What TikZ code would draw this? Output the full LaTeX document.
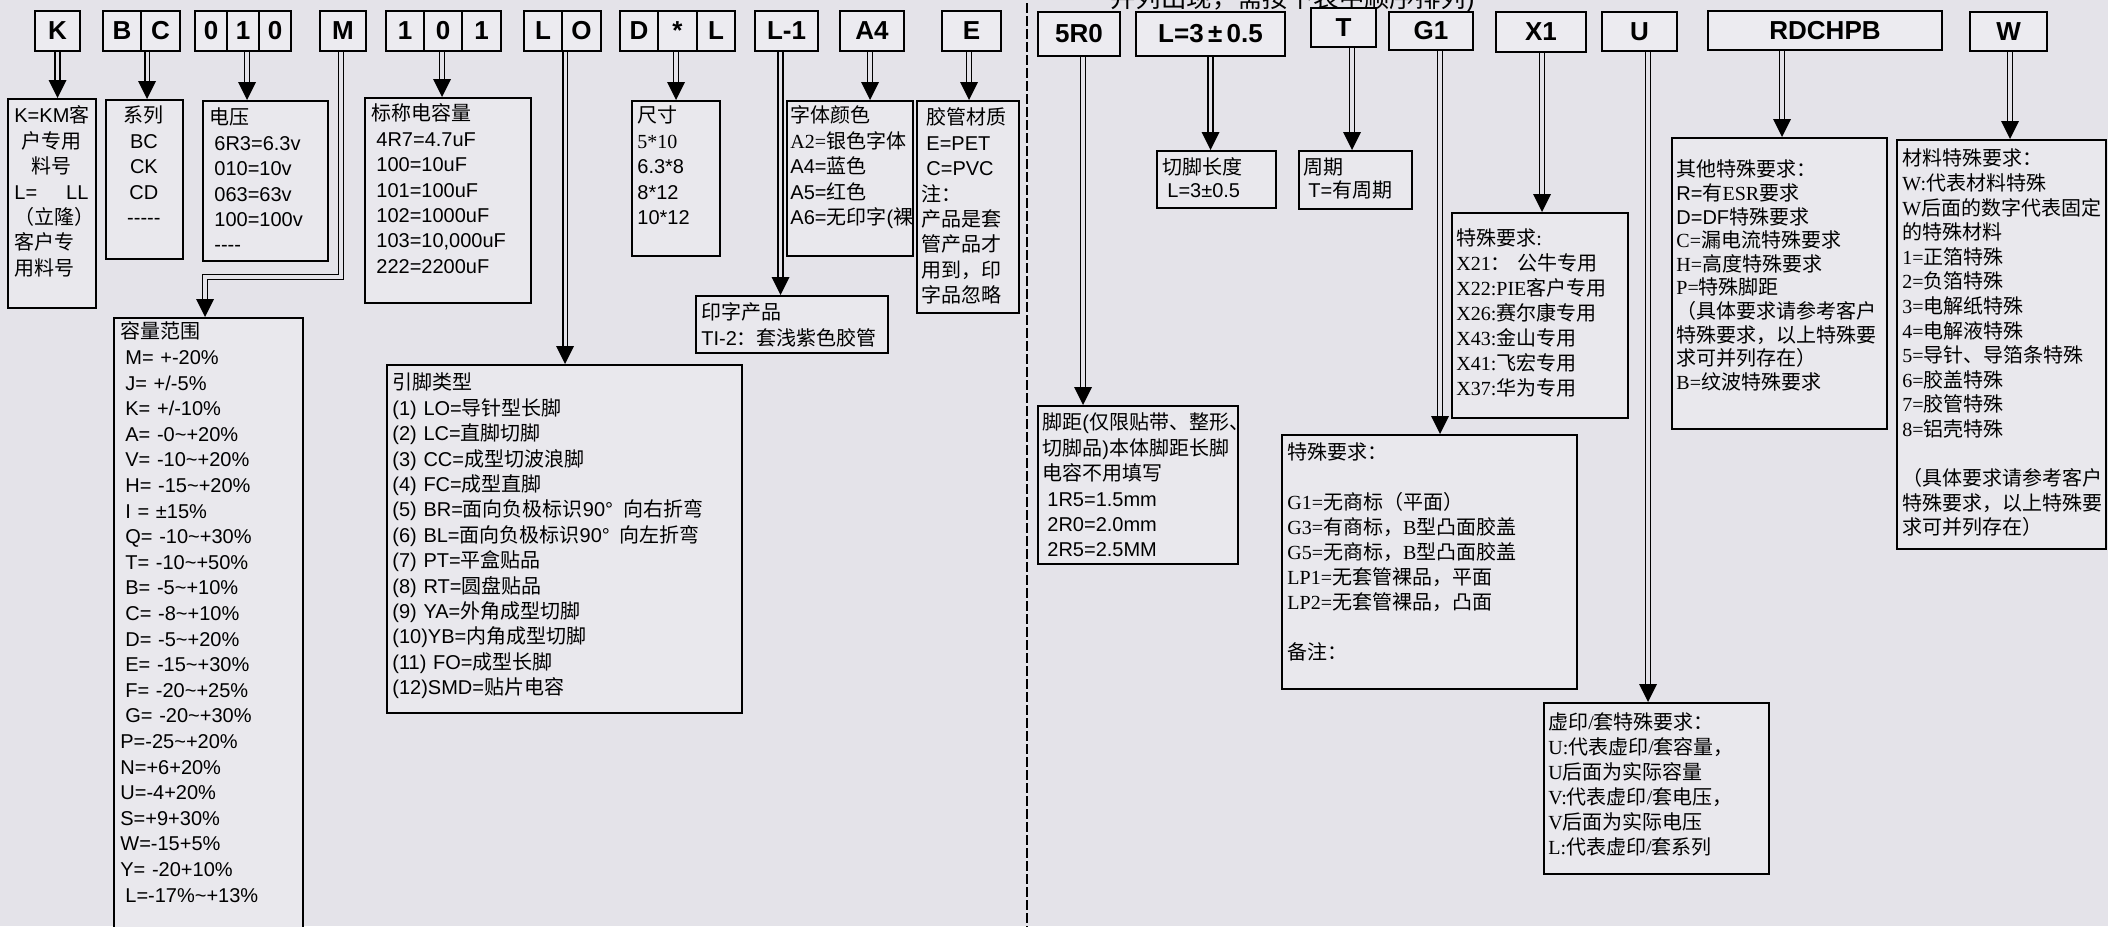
\documentclass[tikz,border=0pt]{standalone}
\usepackage{fontspec}
\setmainfont{Liberation Sans}
\newfontfamily\cjk{Noto Sans CJK SC}
\newfontfamily\serifL{Liberation Serif}
\newfontfamily\sansL{Liberation Sans}
\usetikzlibrary{arrows.meta}
\definecolor{bgc}{RGB}{228,227,233}
\definecolor{boxc}{RGB}{233,232,237}
\definecolor{hdrc}{RGB}{236,235,240}
\newcommand\tld{\textasciitilde}
\newcommand\ind{\hspace*{2.5pt}}
\newcommand\hdrf{\bfseries\fontsize{13}{13}\selectfont}
\newcount\cjkcnt
\chardef\cjkclass=10
\def\setcjkrange#1#2{\cjkcnt=#1\relax
  \loop\XeTeXcharclass\cjkcnt=\cjkclass\relax
  \advance\cjkcnt by 1\relax
  \ifnum\cjkcnt<#2\relax\repeat}
\setcjkrange{"3000}{"3040}
\setcjkrange{"4E00}{"A000}
\setcjkrange{"FF00}{"FFF0}
\XeTeXinterchartoks 0 \cjkclass = {\begingroup\cjk}
\XeTeXinterchartoks 4095 \cjkclass = {\begingroup\cjk}
\XeTeXinterchartoks \cjkclass 0 = {\endgroup}
\XeTeXinterchartoks \cjkclass 4095 = {\endgroup}
\XeTeXinterchartokenstate=1
\newcommand\darrow[2]{%
  \draw[dshaft] (#1) -- (#1 |- #2.north);
  \fill[black] (#1 |- #2.north) -- ++(-4.5pt,9pt) -- ++(9pt,0pt) -- cycle;}
\begin{document}
\begin{tikzpicture}[x=0.5pt,y=-0.5pt,
  bx/.style={draw=black, line width=1.1pt, fill=boxc, inner sep=0pt, anchor=north west},
  hc/.style={draw=black, line width=1.1pt, fill=hdrc, inner sep=0pt, font=\hdrf},
  tx/.style={anchor=north west, inner sep=0pt, align=left, font={\fontsize{10}{12.7}\selectfont},
     execute at begin node={\rule{0pt}{9.2pt}}},
  sertx/.style={tx, font={\fontsize{10}{12.5}\selectfont\serifL}},
  dshaft/.style={draw=black, line width=0.75pt, double=bgc, double distance=1.6pt, shorten >=8pt},
  divl/.style={draw=black, line width=1.4pt, dash pattern=on 5pt off 1.5pt}]
\useasboundingbox (0,0) rectangle (2108,926);
\clip (0,0) rectangle (2108,926);
\fill[bgc] (0,0) rectangle (2108,926);

% ---------- header row, left ----------
\node[hc, minimum width=22.5pt, minimum height=20pt] (hK) at (57.5,31) {K};
\node[hc, minimum width=19pt, minimum height=20pt] (hB) at (122,31) {B};
\node[hc, minimum width=19.5pt, minimum height=20pt] (hC) at (160.5,31) {C};
\node[hc, minimum width=16pt, minimum height=20pt] (h00) at (211,31) {0};
\node[hc, minimum width=16pt, minimum height=20pt] (h01) at (243,31) {1};
\node[hc, minimum width=16pt, minimum height=20pt] (h02) at (275,31) {0};
\node[hc, minimum width=23pt, minimum height=20pt] (hM) at (343,31) {M};
\node[hc, minimum width=19pt, minimum height=20pt] (h11) at (405,31) {1};
\node[hc, minimum width=19pt, minimum height=20pt] (h10) at (443,31) {0};
\node[hc, minimum width=19.5pt, minimum height=20pt] (h12) at (481.5,31) {1};
\node[hc, minimum width=19pt, minimum height=20pt] (hLa) at (543,31) {L};
\node[hc, minimum width=19.5pt, minimum height=20pt] (hLb) at (581.5,31) {O};
\node[hc, minimum width=19pt, minimum height=20pt] (hDa) at (639,31) {D};
\node[hc, minimum width=19.5pt, minimum height=20pt] (hDb) at (677.5,31) {*};
\node[hc, minimum width=19pt, minimum height=20pt] (hDc) at (716,31) {L};
\node[hc, minimum width=31.5pt, minimum height=20pt] (hL1) at (786.5,31) {L-1};
\node[hc, minimum width=32pt, minimum height=20pt] (hA4) at (872,31) {A4};
\node[hc, minimum width=29.5pt, minimum height=20pt] (hE) at (971.5,31) {E};

% ---------- header row, right ----------
\node[hc, minimum width=41pt, minimum height=22pt] (h5) at (1079,34) {5R0};
\node[hc, minimum width=74.5pt, minimum height=22pt] (hLq) at (1210.5,34) {L=3\,±\,0.5};
\node[hc, minimum width=32.5pt, minimum height=19.5pt] (hT) at (1343.5,27.5) {T};
\node[hc, minimum width=42pt, minimum height=19pt] (hG) at (1431,31) {G1};
\node[hc, minimum width=45pt, minimum height=20pt] (hX) at (1541,32) {X1};
\node[hc, minimum width=37.5pt, minimum height=19.5pt] (hU) at (1639.5,31.5) {U};
\node[hc, minimum width=117pt, minimum height=19.5pt] (hR) at (1825,30.5) {RDCHPB};
\node[hc, minimum width=38.5pt, minimum height=19.5pt] (hW) at (2008.5,31.5) {W};

\node[anchor=base west, inner sep=0pt, font={\fontsize{12.7}{13}\selectfont}] (topnote) at (1110,8) {并列出现，需按下表中顺序排列)};

% divider
\draw[divl] (1027,-10) -- (1027,940);

% ---------- left boxes ----------
\node[bx, minimum width=44pt, minimum height=104.5pt] (kb) at (7,98) {};
\node[tx, align=center, text width=37pt] (kt) at (14,104) {K=KM客\\户专用\\料号\\L=\hfill LL\\（立隆）\\客户专\hfill\null\\用料号\hfill\null};

\node[bx, minimum width=38.5pt, minimum height=79.5pt] (sb) at (105,99) {};
\node[tx, align=center, text width=34.5pt] (st) at (109,104) {系列\\BC\\CK\\CD\\-{}-{}-{}-{}-};

\node[bx, minimum width=62.5pt, minimum height=80pt] (vb) at (202,100) {};
\node[tx, text width=60pt] (vt) at (209,106) {电压\\\ind 6R3=6.3v\\\ind 010=10v\\\ind 063=63v\\\ind 100=100v\\\ind -{}-{}-{}-};

\node[bx, minimum width=83pt, minimum height=102.5pt] (cb) at (364,97) {};
\node[tx, text width=82pt] (ct) at (371,102) {标称电容量\\\ind 4R7=4.7uF\\\ind 100=10uF\\\ind 101=100uF\\\ind 102=1000uF\\\ind 103=10,000uF\\\ind 222=2200uF};

\node[bx, minimum width=94.5pt, minimum height=320pt] (rb) at (113,317) {};
\node[tx, text width=100pt, font={\fontsize{10}{12.8}\selectfont}] (rt) at (120,320) {容量范围\\\ind M= +-20\%\\\ind J= +/-5\%\\\ind K= +/-10\%\\\ind A= -0\tld+20\%\\\ind V= -10\tld+20\%\\\ind H= -15\tld+20\%\\\ind I = ±15\%\\\ind Q= -10\tld+30\%\\\ind T= -10\tld+50\%\\\ind B= -5\tld+10\%\\\ind C= -8\tld+10\%\\\ind D= -5\tld+20\%\\\ind E= -15\tld+30\%\\\ind F= -20\tld+25\%\\\ind G= -20\tld+30\%\\P=-25\tld+20\%\\N=+6+20\%\\U=-4+20\%\\S=+9+30\%\\W=-15+5\%\\Y= -20+10\%\\\ind L=-17\%\tld+13\%};

\node[bx, minimum width=177.5pt, minimum height=174pt] (pb) at (386,364) {};
\node[tx, text width=200pt] (ptx) at (392,371) {引脚类型\\(1) LO=导针型长脚\\(2) LC=直脚切脚\\(3) CC=成型切波浪脚\\(4) FC=成型直脚\\(5) BR=面向负极标识90°\hspace{5pt}向右折弯\\(6) BL=面向负极标识90°\hspace{5pt}向左折弯\\(7) PT=平盒贴品\\(8) RT=圆盘贴品\\(9) YA=外角成型切脚\\(10)YB=内角成型切脚\\(11) FO=成型长脚\\(12)SMD=贴片电容};

\node[bx, minimum width=44pt, minimum height=77.5pt] (zb) at (631,100) {};
\node[tx, text width=50pt] (zt) at (637,104) {尺寸\\{\serifL 5*10}\\6.3*8\\8*12\\10*12};

\node[bx, minimum width=63pt, minimum height=77.5pt] (fb) at (786,100) {};
\node[tx, text width=80pt] (ft) at (790,104) {字体颜色\\{\serifL A2=}银色字体\\A4=蓝色\\A5=红色\\A6=无印字(裸};

\node[bx, minimum width=51pt, minimum height=106pt] (eb) at (916,100) {};
\node[tx, text width=60pt] (et) at (921,106) {\ind 胶管材质\\\ind E=PET\\\ind C=PVC\\注：\\产品是套\\管产品才\\用到，印\\字品忽略};

\node[bx, minimum width=96pt, minimum height=28.5pt] (yb) at (695,295) {};
\node[tx, text width=100pt] (yt) at (701,301) {印字产品\\TI-2：套浅紫色胶管};

% ---------- right boxes ----------
\node[bx, minimum width=100pt, minimum height=79pt] (jb) at (1037,405) {};
\node[tx, text width=120pt] (jt) at (1042,411) {脚距(仅限贴带、整形、\\切脚品)本体脚距长脚\\电容不用填写\\\ind 1R5=1.5mm\\\ind 2R0=2.0mm\\\ind 2R5=2.5MM};

\node[bx, minimum width=59.5pt, minimum height=28.5pt] (qb) at (1156,150) {};
\node[tx, text width=60pt, font={\fontsize{10}{11.5}\selectfont}] (qt) at (1162,156) {切脚长度\\\ind L=3±0.5};

\node[bx, minimum width=56.5pt, minimum height=29pt] (tb) at (1298,150) {};
\node[tx, text width=60pt, font={\fontsize{10}{11.5}\selectfont}] (tt) at (1303,156) {周期\\\ind T=有周期};

\node[bx, minimum width=147.5pt, minimum height=127pt] (gb) at (1281,434) {};
\node[sertx, text width=150pt] (gt) at (1287,441) {特殊要求：\\\mbox{}\\G1=无商标（平面）\\G3=有商标，B型凸面胶盖\\G5=无商标，B型凸面胶盖\\LP1=无套管裸品，平面\\LP2=无套管裸品，凸面\\\mbox{}\\备注：};

\node[bx, minimum width=88pt, minimum height=102.5pt] (xb) at (1451,212) {};
\node[sertx, text width=100pt] (xt) at (1456,227) {特殊要求:\\X21： 公牛专用\\X22:PIE客户专用\\X26:赛尔康专用\\X43:金山专用\\X41:飞宏专用\\X37:华为专用};

\node[bx, minimum width=112.5pt, minimum height=85.5pt] (ub) at (1543,702) {};
\node[sertx, text width=120pt] (ut) at (1548,711) {虚印/套特殊要求：\\U:代表虚印/套容量，\\U后面为实际容量\\V:代表虚印/套电压，\\V后面为实际电压\\L:代表虚印/套系列};

\node[bx, minimum width=107.5pt, minimum height=145.5pt] (ob) at (1671,137) {};
\node[sertx, text width=120pt, font={\fontsize{10}{11.8}\selectfont\serifL}] (ot) at (1676,158) {其他特殊要求：\\{\sansL R=}有ESR要求\\{\sansL D=DF}特殊要求\\C=漏电流特殊要求\\H=高度特殊要求\\P=特殊脚距\\（具体要求请参考客户\\特殊要求，以上特殊要\\求可并列存在）\\B=纹波特殊要求};

\node[bx, minimum width=104.5pt, minimum height=204.5pt] (mb) at (1896,139) {};
\node[sertx, text width=120pt, font={\fontsize{10}{12.3}\selectfont\serifL}] (mt) at (1902,147) {材料特殊要求：\\W:代表材料特殊\\W后面的数字代表固定\\的特殊材料\\1=正箔特殊\\2=负箔特殊\\3=电解纸特殊\\4=电解液特殊\\5=导针、导箔条特殊\\6=胶盖特殊\\7=胶管特殊\\8=铝壳特殊\\\mbox{}\\（具体要求请参考客户\\特殊要求，以上特殊要\\求可并列存在）};

% ---------- arrow start points ----------
\coordinate (aK) at (hK.south);
\coordinate (aBC) at ([xshift=2.5pt]hB.south east);
\coordinate (a010) at ([xshift=2pt]h01.south);
\coordinate (aM) at ([xshift=-1pt]hM.south);
\coordinate (a101) at ([xshift=-0.5pt]h10.south);
\coordinate (aLO) at ([xshift=1pt]hLa.south east);
\coordinate (aDL) at ([xshift=-0.75pt]hDb.south);
\coordinate (aL1) at ([xshift=-3pt]hL1.south);
\coordinate (aA4) at ([xshift=-1pt]hA4.south);
\coordinate (aE) at ([xshift=-1.25pt]hE.south);
\coordinate (a5) at ([xshift=2pt]h5.south);
\coordinate (aL) at (hLq.south);
\coordinate (aT) at ([xshift=4.25pt]hT.south);
\coordinate (aG) at ([xshift=4.5pt]hG.south);
\coordinate (aX) at ([xshift=0.5pt]hX.south);
\coordinate (aU) at ([xshift=4.25pt]hU.south);
\coordinate (aR) at ([xshift=-21.5pt]hR.south);
\coordinate (aW) at ([xshift=0.75pt]hW.south);
\coordinate (m1) at (341,277);
\coordinate (m2) at (205,277);

% ---------- connectors ----------
\darrow{aK}{kb}
\darrow{aBC}{sb}
\darrow{a010}{vb}
\darrow{a101}{cb}
\darrow{aLO}{pb}
\darrow{aDL}{zb}
\darrow{aL1}{yb}
\darrow{aA4}{fb}
\darrow{aE}{eb}
\draw[dshaft] (aM) -- (m1) -- (m2) -- (m2 |- rb.north);
\fill[black] (m2 |- rb.north) -- ++(-4.5pt,9pt) -- ++(9pt,0pt) -- cycle;
\darrow{a5}{jb}
\darrow{aL}{qb}
\darrow{aT}{tb}
\darrow{aG}{gb}
\darrow{aX}{xb}
\darrow{aU}{ub}
\darrow{aR}{ob}
\darrow{aW}{mb}
\end{tikzpicture}
\end{document}
